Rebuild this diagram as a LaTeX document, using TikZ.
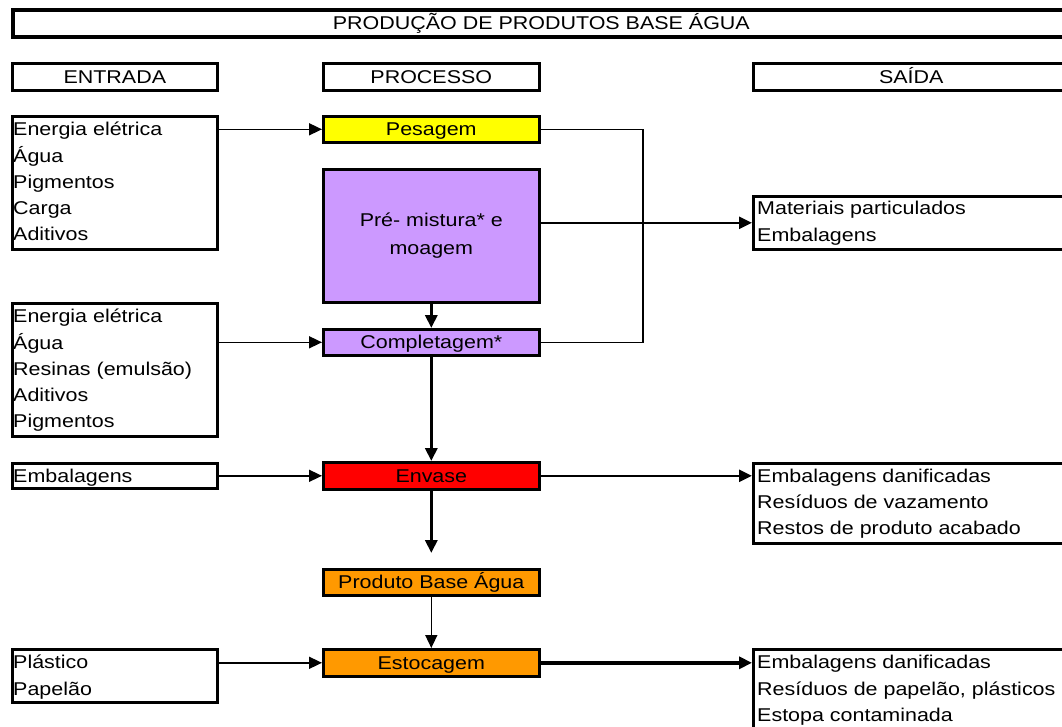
\documentclass[tikz,border=0pt]{standalone}
\usepackage{fontspec}
\setmainfont{Liberation Sans}[FakeStretch=1.16]
\usetikzlibrary{arrows.meta,shadows}
\definecolor{lav}{HTML}{CC99FF}
\definecolor{org}{HTML}{FF9900}
\definecolor{ylw}{HTML}{FFFF00}
\definecolor{rd}{HTML}{FF0000}
\tikzset{
  fnt/.style={font=\fontsize{18.5}{26.3}\selectfont},
  box/.style={draw=black, line width=2.6pt, fill=white, inner sep=0pt, anchor=north west,
    drop shadow={shadow xshift=1pt, shadow yshift=-1pt, fill=black, opacity=1},
    fnt, text height=13pt, text depth=0pt},
  lst/.style={fnt, anchor=north west, inner sep=0pt, align=left},
  ahead/.style={-{Triangle[length=13pt,width=12pt]}},
  conthin/.style={ahead, line width=1.6pt},
  conmid/.style={ahead, line width=2.3pt},
  conthick/.style={ahead, line width=3.4pt},
  bracket/.style={line width=1.2pt},
}
\begin{document}
\begin{tikzpicture}[x=1pt,y=-1pt]
\useasboundingbox (0,0) rectangle (1062,726);
\clip (0,0) rectangle (1062,726);
% headers
\node[box, line width=3.6pt, minimum width=1057pt, minimum height=27pt] (title) at (11,8) {PRODUÇÃO DE PRODUTOS BASE ÁGUA};
\node[box, minimum width=205pt, minimum height=27pt] (hin) at (11,62) {ENTRADA};
\node[box, minimum width=216pt, minimum height=27pt] (hproc) at (322,62) {PROCESSO};
\node[box, minimum width=316pt, minimum height=27pt] (hout) at (752,62) {SAÍDA};
% process
\node[box, fill=ylw, minimum width=216pt, minimum height=26pt] (pes) at (322,115) {Pesagem};
\node[box, fill=lav, minimum width=216pt, minimum height=133pt, align=center, text height=, text depth=,
  font=\fontsize{18.5}{27.7}\selectfont] (pre) at (322,168) {\rule{0pt}{13pt}Pré- mistura* e\\moagem\rule[-1pt]{0pt}{1pt}};
\node[box, fill=lav, minimum width=216pt, minimum height=26pt] (comp) at (322,328) {Completagem*};
\node[box, fill=rd, minimum width=216pt, minimum height=27pt] (env) at (322,461) {Envase};
\node[box, fill=org, minimum width=216pt, minimum height=26pt] (pba) at (322,568) {Produto Base Água};
\node[box, fill=org, minimum width=216pt, minimum height=27pt] (est) at (322,648) {Estocagem};
% inputs
\node[box, minimum width=205pt, minimum height=133pt] (e1) at (11,115) {};
\node[lst] (e1t) at (13,120.5) {\rule{0pt}{15pt}Energia elétrica\\Água\\Pigmentos\\Carga\\Aditivos};
\node[box, minimum width=205pt, minimum height=133pt] (e2) at (11,302) {};
\node[lst] (e2t) at (13,307.5) {\rule{0pt}{15pt}Energia elétrica\\Água\\Resinas (emulsão)\\Aditivos\\Pigmentos};
\node[box, minimum width=205pt, minimum height=25pt] (e3) at (11,462) {};
\node[lst] (e3t) at (13,467) {\rule{0pt}{15pt}Embalagens};
\node[box, minimum width=205pt, minimum height=53pt] (e4) at (11,648) {};
\node[lst] (e4t) at (13,653.5) {\rule{0pt}{15pt}Plástico\\Papelão};
% outputs
\node[box, minimum width=316pt, minimum height=53pt] (s1) at (752,195) {};
\node[lst] (s1t) at (757,199.5) {\rule{0pt}{15pt}Materiais particulados\\Embalagens};
\node[box, minimum width=316pt, minimum height=80pt] (s2) at (752,462) {};
\node[lst] (s2t) at (757,467) {\rule{0pt}{15pt}Embalagens danificadas\\Resíduos de vazamento\\Restos de produto acabado};
\node[box, minimum width=316pt, minimum height=100pt] (s3) at (752,648) {};
\node[lst] (s3t) at (757,653.5) {\rule{0pt}{15pt}Embalagens danificadas\\Resíduos de papelão, plásticos\\Estopa contaminada};
% connectors
\coordinate (bx) at (643,0);
\draw[bracket] (pes.east) -| (bx |- comp.east) -- (comp.east);
\draw[conthin] (pes.west -| e1.east) -- (pes.west);
\draw[conthin] (comp.west -| e2.east) -- (comp.west);
\draw[conthin] (env.west -| e3.east) -- (env.west);
\draw[conthin] (est.west -| e4.east) -- (est.west);
\draw[conmid] (s1.west -| pre.east) -- (s1.west);
\draw[conmid] (env.east) -- (env.east -| s2.west);
\draw[conthick] (est.east) -- (est.east -| s3.west);
\draw[conthick] (pre.south) -- (comp.north);
\draw[conthick] (comp.south) -- (env.north);
\draw[conthick, shorten >=15pt] (env.south) -- (pba.north);
\draw[conthin] (pba.south) -- (est.north);
\end{tikzpicture}
\end{document}
